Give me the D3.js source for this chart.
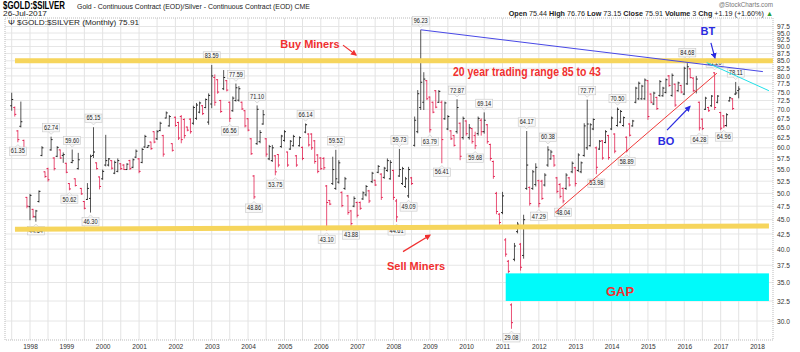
<!DOCTYPE html>
<html lang="en">
<head>
<meta charset="UTF-8" />
<title>gold silver ratio</title>
<script src="https://cdn.jsdelivr.net/npm/d3@7/dist/d3.min.js"></script>
<style>
  body { margin: 0; background: #fff; }
  text { font-family: "Liberation Sans", Arial, sans-serif; }
</style>
</head>
<body>
<div id="wrapper"></div>
<script>
// monthly bars, first one is Jul 1997
const startYear = 1997, startMonth = 6;
const opens = [71.0,70.5,64.2,65.4,61.8,49.2,47.4,46.9,45.5,48.4,58.2,54.5,55.2,59.5,57.6,58.0,59.5,58.2,56.4,52.0,56.6,53.0,55.2,51.0,48.4,48.8,49.0,58.2,56.5,53.4,
53.0,56.0,56.0,57.0,54.2,54.6,56.3,56.0,55.0,57.0,55.5,57.8,57.4,56.6,60.2,60.1,61.4,64.0,62.2,64.3,63.0,67.6,65.5,61.0,67.8,66.4,68.0,67.2,65.2,67.3,
66.2,67.5,69.2,71.0,70.5,66.5,71.5,79.5,78.8,72.5,76.0,78.5,72.0,69.6,72.5,72.6,72.0,69.6,67.4,62.2,53.6,61.0,61.5,66.0,62.2,57.4,57.0,58.1,58.4,60.3,
61.8,59.0,59.7,60.5,58.1,60.5,60.1,63.9,63.4,63.4,61.7,58.3,57.6,57.5,51.5,48.6,52.0,51.0,52.3,50.2,51.0,49.5,46.6,47.5,48.2,48.2,48.9,49.7,50.5,52.4,
52.7,54.4,54.0,53.3,54.8,53.0,54.8,48.5,53.6,52.0,51.4,49.5,53.2,60.6,64.0,70.5,72.0,78.5,73.5,72.0,75.4,72.0,72.0,67.4,64.7,64.2,63.0,64.0,66.2,62.5,
66.8,62.5,64.8,63.0,63.5,67.0,64.0,65.8,60.8,56.8,50.0,46.0,46.3,41.5,38.1,32.0,38.4,42.9,40.8,39.0,51.0,51.2,51.0,51.8,52.6,52.5,51.7,56.0,57.4,58.1,
53.2,51.8,51.0,51.0,53.2,54.5,55.4,54.8,54.5,58.2,60.0,60.5,64.7,60.0,59.7,61.7,61.3,63.0,64.7,63.4,65.6,66.5,65.6,62.6,66.0,65.5,72.0,73.0,73.0,73.0,
78.5,74.4,71.5,73.4,74.0,73.9,74.9,80.0,74.0,77.4,75.4,77.0,74.4,77.5,82.3,79.3,75.2,72.0,67.3,70.0,70.5,71.0,81.0,72.0,69.1,68.2,65.6,72.4,73.0,74.4,
75.44];
const highs = [74.8,70.8,64.4,72.2,62.0,49.3,49.9,47.0,46.8,50.6,60.4,54.6,55.4,62.74,57.8,60.4,59.6,58.9,56.5,52.1,59.60,53.1,58.8,51.1,48.5,52.1,58.4,65.15,56.6,53.5,
55.0,63.2,57.6,57.1,57.0,57.5,56.4,56.2,56.4,57.2,57.5,59.6,57.6,60.0,63.2,60.7,61.5,64.1,64.4,66.6,63.2,69.4,68.4,61.1,68.0,66.6,68.4,67.5,65.3,67.5,
71.0,71.8,72.2,71.2,73.1,74.6,83.59,80.5,79.0,72.7,81.9,78.7,72.2,73.7,77.59,76.8,72.2,69.8,67.6,62.4,53.8,71.10,64.4,69.8,62.4,60.7,60.7,58.3,58.5,63.2,
64.4,59.1,61.9,63.2,58.3,62.8,60.3,66.14,63.6,63.6,61.9,58.5,57.8,57.8,51.7,48.7,57.9,59.52,57.1,50.4,53.4,49.7,46.8,49.4,48.4,48.4,50.4,51.7,50.7,54.5,
52.8,56.0,54.2,55.6,57.5,57.1,55.0,48.9,59.73,55.6,53.4,55.6,53.4,68.0,75.6,96.23,81.2,78.7,73.7,72.2,75.6,75.6,72.5,72.2,68.4,64.4,63.2,72.87,66.4,68.0,
67.0,66.0,65.0,64.0,68.0,67.5,69.14,66.0,61.0,57.0,50.3,46.2,50.3,41.8,38.3,32.2,41.0,44.6,41.0,45.9,64.17,51.4,54.9,56.4,52.8,52.8,54.2,60.38,59.5,58.3,
53.4,52.1,51.2,54.2,53.4,56.8,55.6,58.7,56.8,66.2,72.77,66.2,67.5,60.3,61.9,61.9,64.4,63.2,68.0,63.6,70.50,69.8,68.0,62.8,66.2,67.1,76.6,78.2,77.2,79.2,
78.7,74.6,75.1,73.6,78.7,76.6,79.2,80.3,80.8,77.6,78.2,77.2,83.0,84.68,82.5,79.6,80.0,72.2,67.5,73.6,70.7,74.1,81.20,74.1,69.3,68.4,68.9,73.6,73.2,78.11,
76.76];
const lows = [69.6,68.0,61.35,65.1,58.1,47.1,44.9,45.3,44.64,48.2,58.0,53.2,52.4,59.3,54.8,57.8,57.4,56.5,54.2,50.62,56.4,51.4,55.0,49.7,46.9,48.7,46.30,57.6,55.0,50.8,
52.8,55.7,55.7,55.0,54.0,54.4,54.9,54.9,54.9,54.9,55.3,57.6,54.2,56.4,60.0,60.0,59.5,61.1,61.9,64.1,57.9,67.5,65.3,59.1,65.3,61.9,61.1,62.3,64.1,63.5,
65.8,67.1,68.9,68.4,70.3,65.8,70.3,71.0,74.5,69.0,75.6,75.2,66.56,69.3,72.2,72.2,69.8,65.1,64.1,58.3,48.86,60.7,61.1,65.8,57.9,57.1,56.7,53.75,55.5,60.0,
61.5,55.6,59.5,60.3,55.6,60.3,57.1,63.6,60.3,59.5,56.3,54.2,54.9,54.9,43.10,47.7,51.7,50.7,52.0,47.3,50.7,45.9,43.88,47.3,45.4,46.8,48.7,49.4,48.1,52.1,
51.5,54.2,48.7,53.0,54.5,52.8,48.7,44.61,53.4,51.7,51.1,49.09,51.7,60.3,63.6,69.8,69.8,72.7,63.79,68.9,70.3,71.8,56.41,67.1,64.4,61.9,60.3,63.5,57.1,62.0,
63.0,62.0,61.0,59.68,63.0,63.0,63.5,61.0,57.0,53.0,46.0,44.1,46.0,38.8,36.3,29.08,38.1,42.6,36.7,38.5,50.7,47.6,50.7,51.4,47.29,48.7,51.4,55.6,57.2,55.6,
50.0,49.0,48.04,50.7,51.4,54.2,51.4,54.5,54.2,57.9,59.5,60.3,64.4,53.98,59.5,57.2,61.1,57.2,64.4,58.7,65.3,66.2,65.3,58.89,62.8,65.3,71.7,72.7,72.7,72.7,
67.1,71.7,71.2,69.8,73.6,73.6,74.6,76.6,73.6,70.7,75.1,74.6,74.1,77.2,79.2,75.0,74.6,64.28,64.4,69.8,69.3,70.7,69.8,71.7,64.4,64.96,65.3,72.2,69.8,74.1,
73.15];
const closes = [72.8,68.6,62.0,66.6,58.5,47.5,49.6,45.6,46.6,50.4,60.0,53.5,52.8,62.0,55.2,60.1,57.6,58.4,54.4,50.9,57.0,51.6,57.2,49.9,47.1,51.0,58.0,59.0,55.2,51.4,
54.6,57.0,57.4,55.3,56.6,57.0,55.2,55.0,56.2,55.2,57.2,59.2,54.6,59.6,62.8,60.5,59.8,61.4,64.0,66.2,58.5,69.0,68.0,59.4,65.6,62.4,62.0,63.0,64.4,64.0,
70.5,71.2,71.8,68.8,72.8,74.0,80.0,72.0,75.0,69.4,79.5,75.6,67.5,73.2,76.3,76.0,70.1,65.5,64.4,58.6,49.3,70.0,63.8,68.5,58.5,60.3,60.0,54.5,56.0,62.9,
64.0,56.0,61.6,62.8,56.0,62.5,57.5,65.8,60.7,60.0,56.8,54.6,55.2,55.4,48.2,47.9,55.0,53.0,56.5,47.6,53.0,46.3,44.3,49.0,45.8,47.1,50.1,51.4,48.5,54.2,
51.7,55.7,49.2,55.3,57.0,56.6,49.2,45.5,55.0,55.2,53.0,55.0,52.0,67.0,74.5,78.0,79.0,73.0,64.5,69.2,70.6,75.2,62.0,71.8,68.0,62.2,60.6,70.5,58.0,67.5,
63.5,65.0,61.5,60.5,67.5,64.0,67.0,61.5,57.5,53.5,46.5,44.5,49.5,39.2,36.6,29.8,40.5,44.2,37.2,45.0,56.0,48.0,54.5,55.5,48.0,49.0,53.8,59.5,59.0,56.0,
50.4,49.4,48.5,53.8,51.7,56.4,52.0,58.3,56.5,65.5,66.0,65.8,67.2,55.5,61.6,57.6,64.0,57.7,67.6,59.2,70.0,69.4,67.7,59.3,63.1,66.8,76.2,77.7,76.8,78.7,
68.0,72.0,74.7,70.2,78.2,76.2,78.8,77.0,80.2,71.2,77.8,75.0,82.5,83.0,79.5,75.5,79.0,65.0,64.8,73.2,69.6,73.8,70.5,73.8,64.9,65.5,68.5,73.3,70.2,74.72,
75.91];

// bars (index from Jul 1997) that carry a price label
const highLabelBars = [13, 20, 27, 66, 74, 81, 97, 107, 128, 135, 147, 156, 170, 177, 190, 200, 223, 232, 239];
const lowLabelBars = [2, 8, 19, 26, 72, 80, 87, 104, 112, 127, 131, 138, 142, 153, 165, 174, 182, 193, 203, 227, 235];

const yTicks = [30, 32.5, 35, 37.5, 40, 42.5, 45, 47.5, 50, 52.5, 55, 57.5, 60, 62.5, 65, 67.5, 70, 72.5, 75, 77.5, 80, 82.5, 85, 87.5, 90, 92.5, 95, 97.5];
const yearTicks = d3.range(1998, 2019);

// drawn trend lines and boxes, as [date, ratio]
const buyLine = [[Date.UTC(1997, 7, 3), 85], [Date.UTC(2018, 5, 10), 85]];
const sellLine = [[Date.UTC(1997, 7, 3), 43.3], [Date.UTC(2018, 4, 1), 43.9]];
const topLine = [[Date.UTC(2008, 9, 1), 96.23], [Date.UTC(2018, 2, 1), 81.4]];
const cyanLine = [[Date.UTC(2016, 7, 13), 84.4], [Date.UTC(2018, 4, 1), 75.4]];
const upTrend = [[Date.UTC(2012, 5, 11), 46.3], [Date.UTC(2016, 10, 24), 80.9]];
const gapBox = [[Date.UTC(2011, 1, 2), 36.3], [Date.UTC(2018, 4, 1), 32.5]];

const dims = { width: 800, height: 352, left: 5, right: 773, top: 18, bottom: 340 };

const bars = opens.map((o, i) => ({
  date: new Date(Date.UTC(startYear, startMonth + i, 1)),
  open: o, high: highs[i], low: lows[i], close: closes[i]
}));

const svg = d3.select("#wrapper").append("svg")
  .attr("width", dims.width)
  .attr("height", dims.height);

const xScale = d3.scaleUtc()
  .domain([Date.UTC(1998, 0, 1), Date.UTC(2018, 0, 1)])
  .range([30, 757]);
const yScale = d3.scaleLog()
  .domain([30, 95])
  .range([321, 33]);

// header
svg.append("text").attr("x", 3).attr("y", 9).attr("font-size", 10).attr("font-weight", "bold")
  .attr("textLength", 62).attr("lengthAdjust", "spacingAndGlyphs").text("$GOLD:$SILVER");
svg.append("text").attr("x", 77).attr("y", 9).attr("font-size", 6.8).attr("fill", "#222")
  .attr("textLength", 233).attr("lengthAdjust", "spacingAndGlyphs")
  .text("Gold - Continuous Contract (EOD)/Silver - Continuous Contract (EOD)  CME");
svg.append("text").attr("x", 3).attr("y", 16).attr("font-size", 6.8).attr("fill", "#222")
  .attr("textLength", 44).attr("lengthAdjust", "spacingAndGlyphs").text("26-Jul-2017");
svg.append("text").attr("x", 773).attr("y", 7).attr("font-size", 6.3).attr("fill", "#777")
  .attr("text-anchor", "end").text("@StockCharts.com");

const quote = svg.append("text").attr("x", 773).attr("y", 16).attr("font-size", 7.2)
  .attr("text-anchor", "end").attr("fill", "#222");
[["Open", " 75.44 "], ["High", " 76.76 "], ["Low", " 73.15 "], ["Close", " 75.91 "],
 ["Volume", " 3 "], ["Chg", " +1.19 (+1.60%) "]].forEach(([k, v]) => {
  quote.append("tspan").attr("font-weight", "bold").text(k);
  quote.append("tspan").text(v);
});
quote.append("tspan").attr("fill", "#2a9d3a").text("▲");

// grid
const grid = svg.append("g");
grid.selectAll(".hg").data(yTicks).join("line")
  .attr("x1", dims.left).attr("x2", dims.right)
  .attr("y1", d => yScale(d)).attr("y2", d => yScale(d))
  .attr("stroke", "#e6e6e6");
const halfYears = d3.utcMonth.every(6).range(new Date(Date.UTC(1997, 6, 1)), new Date(Date.UTC(2018, 1, 1)));
grid.selectAll(".vg").data(halfYears).join("line")
  .attr("x1", d => xScale(d)).attr("x2", d => xScale(d))
  .attr("y1", dims.top).attr("y2", dims.bottom)
  .attr("stroke", "#e3e3e3");
svg.append("rect")
  .attr("x", dims.left).attr("y", dims.top)
  .attr("width", dims.right - dims.left).attr("height", dims.bottom - dims.top)
  .attr("fill", "none").attr("stroke", "#bbb").attr("stroke-dasharray", "1,1");

svg.append("text").attr("x", 8).attr("y", 25).attr("font-size", 7)
  .attr("font-family", "DejaVu Sans Mono").attr("fill", "#222")
  .attr("textLength", 131).attr("lengthAdjust", "spacingAndGlyphs")
  .text("Ψ $GOLD:$SILVER (Monthly) 75.91");

// axes
const yAxis = svg.append("g")
  .attr("transform", `translate(${dims.right},0)`)
  .call(d3.axisRight(yScale).tickValues(yTicks).tickSize(0).tickPadding(4).tickFormat(d3.format(".1f")));
yAxis.select(".domain").remove();
yAxis.selectAll("text").attr("font-size", 6.6).attr("fill", "#333")
  .attr("font-family", "Liberation Sans, Arial, sans-serif");

const xAxis = svg.append("g")
  .attr("transform", `translate(0,${dims.bottom})`)
  .call(d3.axisBottom(xScale).tickValues(yearTicks.map(y => new Date(Date.UTC(y, 0, 1))))
    .tickSize(0).tickPadding(4).tickFormat(d3.utcFormat("%Y")));
xAxis.select(".domain").remove();
xAxis.selectAll("text").attr("font-size", 6.6).attr("fill", "#333")
  .attr("font-family", "Liberation Sans, Arial, sans-serif");

const line = d3.line().x(d => xScale(d[0])).y(d => yScale(d[1]));

// OHLC bars
const up = "#1c1c1c", down = "#e2184a";
const bar = svg.append("g").selectAll("g").data(bars).join("g")
  .attr("stroke", d => d.close >= d.open ? up : down);
bar.append("line")
  .attr("x1", d => xScale(d.date)).attr("x2", d => xScale(d.date))
  .attr("y1", d => yScale(d.high)).attr("y2", d => yScale(d.low))
  .attr("stroke-opacity", 0.75);
bar.append("line")
  .attr("x1", d => xScale(d.date) - 1.5).attr("x2", d => xScale(d.date))
  .attr("y1", d => yScale(d.open)).attr("y2", d => yScale(d.open));
bar.append("line")
  .attr("x1", d => xScale(d.date)).attr("x2", d => xScale(d.date) + 1.5)
  .attr("y1", d => yScale(d.close)).attr("y2", d => yScale(d.close));

// price labels
function priceLabel(d, isHigh) {
  const v = isHigh ? d.high : d.low;
  const x = xScale(d.date);
  const y = yScale(v) + (isHigh ? -9 : 9);
  const g = svg.append("g");
  g.append("rect").attr("x", x - 8.5).attr("y", y - 4.2).attr("width", 17).attr("height", 8.4)
    .attr("fill", "#f8f8f8").attr("stroke", "#c8c8c8").attr("stroke-width", 0.6);
  const py = isHigh ? y + 4.2 : y - 4.2;
  const s = isHigh ? 1 : -1;
  g.append("path").attr("d", `M${x - 2.5},${py} L${x},${py + s * 2.5} L${x + 2.5},${py}`)
    .attr("fill", "#f8f8f8").attr("stroke", "#c8c8c8").attr("stroke-width", 0.6);
  g.append("text").attr("x", x).attr("y", y).attr("dy", "0.35em")
    .attr("text-anchor", "middle").attr("font-size", 6.4).attr("fill", "#222")
    .attr("textLength", 14).attr("lengthAdjust", "spacingAndGlyphs")
    .text(d3.format(".2f")(v));
}
highLabelBars.forEach(i => priceLabel(bars[i], true));
lowLabelBars.forEach(i => priceLabel(bars[i], false));

// drawn annotations sit on top of the bars and labels
svg.append("rect")
  .attr("x", xScale(gapBox[0][0])).attr("y", yScale(gapBox[0][1]))
  .attr("width", xScale(gapBox[1][0]) - xScale(gapBox[0][0]))
  .attr("height", yScale(gapBox[1][1]) - yScale(gapBox[0][1]))
  .attr("fill", "#00fafa");

svg.append("path").attr("d", line(buyLine)).attr("stroke", "#f6d55c").attr("stroke-width", 5).attr("fill", "none");
svg.append("path").attr("d", line(sellLine)).attr("stroke", "#f6d55c").attr("stroke-width", 5).attr("fill", "none");

svg.append("path").attr("d", line(topLine)).attr("stroke", "#4848e6").attr("stroke-width", 1).attr("fill", "none");
svg.append("path").attr("d", line(cyanLine)).attr("stroke", "#22e0e8").attr("stroke-width", 1).attr("fill", "none");
svg.append("path").attr("d", line(upTrend)).attr("stroke", "#f03a3a").attr("stroke-width", 1).attr("fill", "none");

const defs = svg.append("defs");
[["red", "#f03030"], ["blue", "#2a2ae0"]].forEach(([id, c]) => {
  defs.append("marker").attr("id", "arrow-" + id).attr("viewBox", "0 0 10 10")
    .attr("refX", 8).attr("refY", 5).attr("markerWidth", 5).attr("markerHeight", 5)
    .attr("orient", "auto").append("path").attr("d", "M0,0 L10,5 L0,10 z").attr("fill", c);
});
function note(txt, date, v, color, size, anchor, len) {
  const t = svg.append("text").attr("x", xScale(date)).attr("y", yScale(v)).attr("dy", "0.35em")
    .attr("text-anchor", anchor || "middle").attr("font-size", size).attr("font-weight", "bold")
    .attr("fill", color).text(txt);
  if (len) t.attr("textLength", len).attr("lengthAdjust", "spacingAndGlyphs");
}
function arrow(a, b, id, color) {
  svg.append("path").attr("d", line([a, b])).attr("stroke", color).attr("stroke-width", 1.2)
    .attr("fill", "none").attr("marker-end", `url(#arrow-${id})`);
}
note("Buy Miners", Date.UTC(2005, 8, 14), 90.9, "#f03030", 11);
arrow([Date.UTC(2006, 7, 12), 90.5], [Date.UTC(2006, 11, 21), 87.0], "red", "#f03030");
note("20 year trading range 85 to 43", Date.UTC(2009, 7, 21), 81.2, "#f03030", 12, "start", 148);
note("Sell Miners", Date.UTC(2008, 7, 15), 37.4, "#f03030", 11);
arrow([Date.UTC(2008, 3, 6), 39.6], [Date.UTC(2009, 0, 2), 42.3], "red", "#f03030");
note("GAP", Date.UTC(2014, 2, 27), 33.7, "#f03030", 13);
note("BT", Date.UTC(2016, 7, 26), 95.8, "#2a2ae0", 11);
arrow([Date.UTC(2016, 8, 25), 91.3], [Date.UTC(2016, 10, 4), 86.0], "blue", "#2a2ae0");
note("BO", Date.UTC(2015, 6, 2), 61.5, "#2a2ae0", 11);
arrow([Date.UTC(2015, 6, 12), 64.4], [Date.UTC(2016, 1, 27), 70.8], "blue", "#2a2ae0");
</script>
</body>
</html>
